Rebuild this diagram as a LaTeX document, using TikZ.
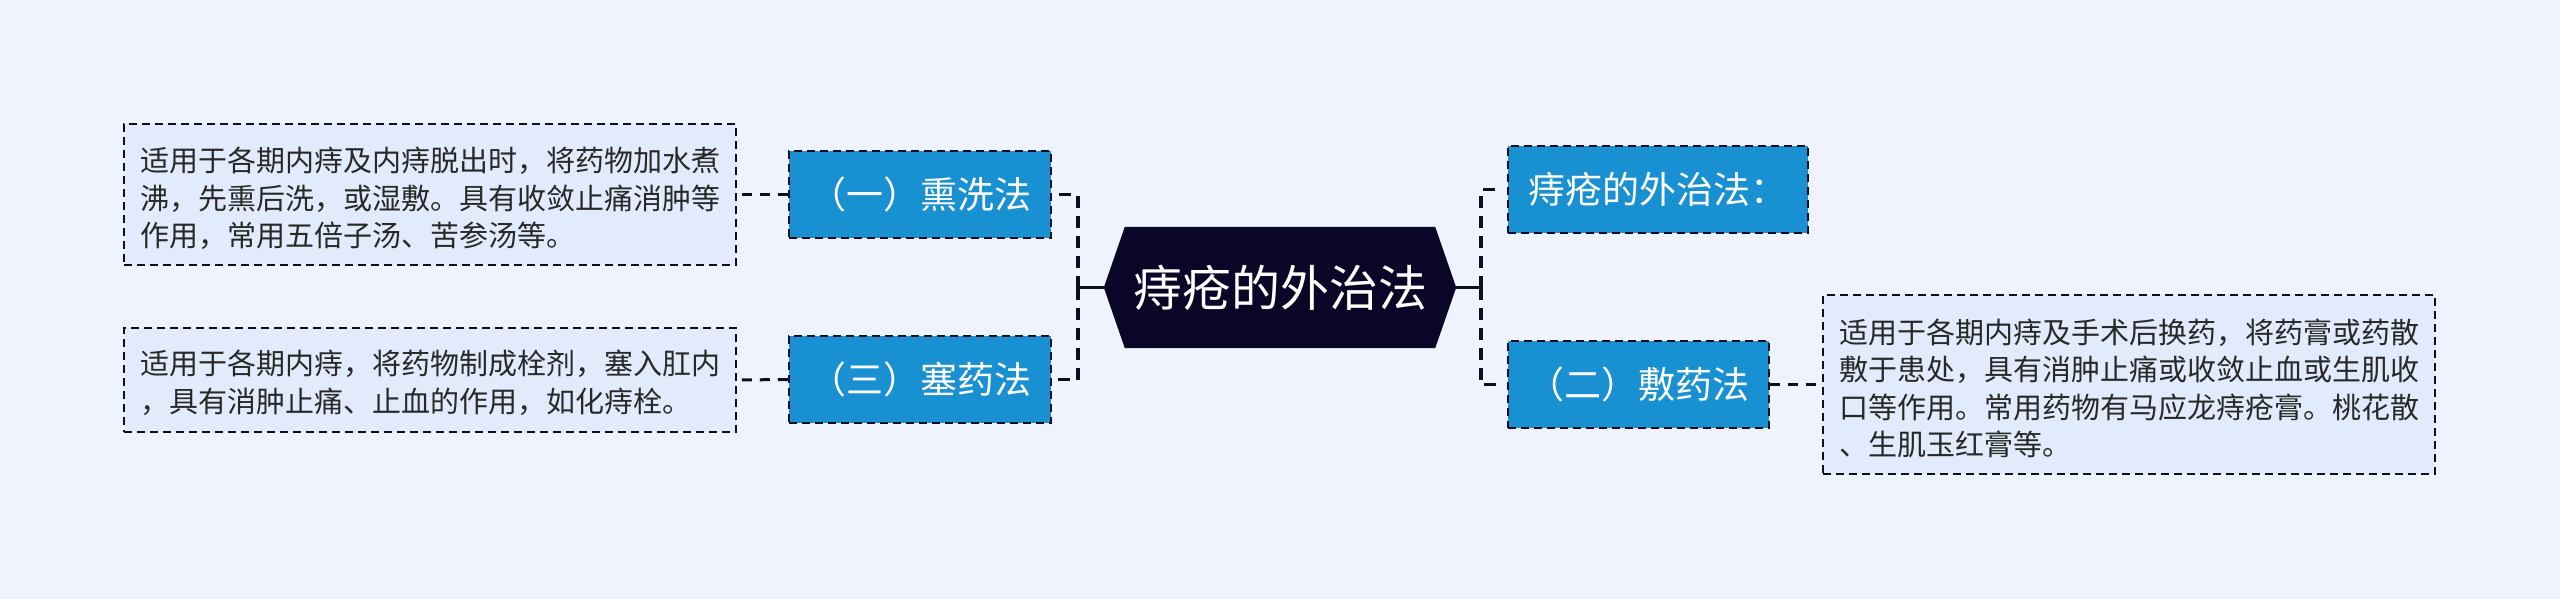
\documentclass[tikz,border=0pt]{standalone}
\usepackage{fontspec}
\setmainfont{Noto Sans CJK SC}
\usetikzlibrary{calc,backgrounds}
\definecolor{bgcol}{RGB}{238,243,253}
\definecolor{descfill}{RGB}{226,235,251}
\definecolor{nodeblue}{RGB}{24,144,210}
\definecolor{navy}{RGB}{10,6,40}
\definecolor{linecol}{RGB}{14,14,32}
\definecolor{txtcol}{RGB}{40,40,40}
\begin{document}
\begin{tikzpicture}[x=1pt,y=-1pt,
  descbox/.style={draw=linecol, line width=2.5pt, dash pattern=on 8pt off 5pt, fill=descfill,
    minimum width=612pt, inner sep=0pt},
  desctext/.style={align=left, inner sep=0pt, text=txtcol, font=\fontsize{29}{37.5}\selectfont},
  sub/.style={draw=linecol, line width=2.5pt, dash pattern=on 8pt off 5pt, fill=nodeblue,
    minimum height=87pt, inner sep=0pt, text=white, font=\fontsize{37}{44}\selectfont},
  conn/.style={draw=linecol, line width=3.8pt, dash pattern=on 12pt off 8pt},
  leafconn/.style={draw=linecol, line width=3pt, dash pattern=on 10pt off 8pt},
  stub/.style={draw=linecol, line width=3.8pt},
]
\useasboundingbox (0,0) rectangle (2560,599);

% central topic
\node[font=\fontsize{49}{58}\selectfont, text=white, minimum width=310pt,
      minimum height=121pt, inner sep=0pt] (c) at (1280,287.5) {痔疮的外治法};
\coordinate (cw) at ($(c.west)+(-21,0)$);
\coordinate (ce) at ($(c.east)+(21,0)$);
\begin{pgfonlayer}{background}
  \fill[bgcol] (0,0) rectangle (2560,599);
  \fill[navy] (cw) -- (c.north west) -- (c.north east) -- (ce) -- (c.south east) -- (c.south west) -- cycle;
\end{pgfonlayer}

% subtopics
\node[sub, minimum width=262pt] (n1) at (920,194.5) {（一）熏洗法};
\node[sub, minimum width=262pt] (n3) at (920,379.5) {（三）塞药法};
\node[sub, minimum width=300pt] (tr) at (1658,189.5) {痔疮的外治法：};
\node[sub, minimum width=261pt] (n2) at (1638.5,384.5) {（二）敷药法};

% descriptions
\node[descbox, minimum height=141pt] (d1) at (430,194.5) {};
\node[desctext] (t1) at ([yshift=-4pt]d1.center)
  {适用于各期内痔及内痔脱出时，将药物加水煮\\沸，先熏后洗，或湿敷。具有收敛止痛消肿等\\作用，常用五倍子汤、苦参汤等。};
\node[descbox, minimum height=104pt] (d3) at (430,380) {};
\node[desctext] (t3) at ([yshift=-3pt]d3.center)
  {适用于各期内痔，将药物制成栓剂，塞入肛内\\，具有消肿止痛、止血的作用，如化痔栓。};
\node[descbox, minimum height=179pt] (d2) at (2129,384.5) {};
\node[desctext] (t2) at ([yshift=-4pt]d2.center)
  {适用于各期内痔及手术后换药，将药膏或药散\\敷于患处，具有消肿止痛或收敛止血或生肌收\\口等作用。常用药物有马应龙痔疮膏。桃花散\\、生肌玉红膏等。};

% connectors from centre
\coordinate (jl) at ($(cw)+(-26,0)$);
\coordinate (jr) at ($(ce)+(25,0)$);
\draw[stub] (cw) -- (jl);
\draw[stub] (ce) -- (jr);
\draw[conn, shorten >=4pt] (jl) |- (n1.east);
\draw[conn, shorten >=4pt] (jl) |- (n3.east);
\draw[conn, shorten >=9pt] (jr) |- (tr.west);
\draw[conn, shorten >=9pt] (jr) |- (n2.west);

% connectors to descriptions
\draw[leafconn] (n1.west) -- (d1.east);
\draw[leafconn] (n3.west) -- (d3.east);
\draw[leafconn] (n2.east) -- (d2.west);
\end{tikzpicture}
\end{document}
